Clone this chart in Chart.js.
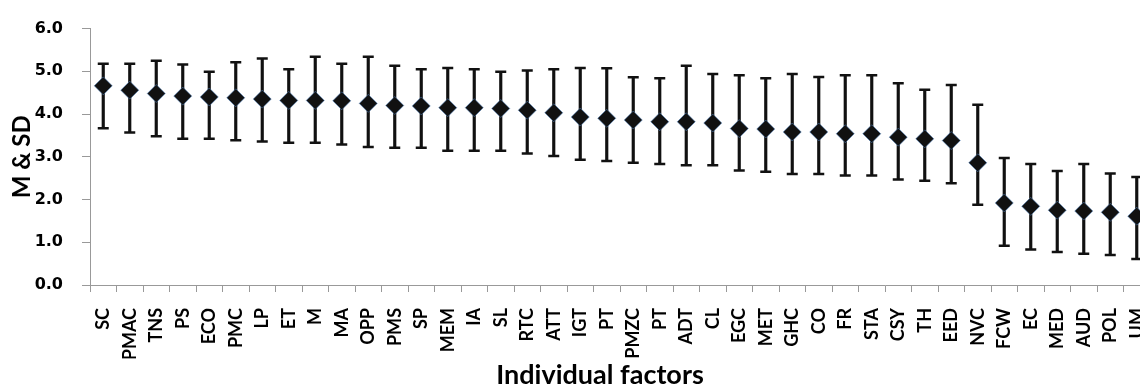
<!DOCTYPE html>
<html>
<head>
<meta charset="utf-8">
<script src="https://cdn.jsdelivr.net/npm/chart.js@4"></script>
<style>
  html, body { margin: 0; padding: 0; background: #fff; overflow: hidden; }
  #wrap { position: relative; width: 1200px; height: 400px; }
</style>
</head>
<body>
<div id="wrap"><canvas id="grafica"></canvas></div>
<script>
// factores (eje x)
const categorias = ['SC','PMAC','TNS','PS','ECO','PMC','LP','ET','M','MA','OPP','PMS','SP','MEM','IA','SL','RTC','ATT','IGT','PT',
  'PMZC','PT','ADT','CL','EGC','MET','GHC','CO','FR','STA','CSY','TH','EED','NVC','FCW','EC','MED','AUD','POL','UM'];

// media de cada factor
const medias = [4.66,4.56,4.48,4.42,4.40,4.38,4.35,4.32,4.32,4.31,4.25,4.20,4.19,4.15,4.15,4.13,4.09,4.03,3.93,3.90,
  3.86,3.82,3.82,3.79,3.66,3.65,3.58,3.58,3.54,3.54,3.46,3.42,3.38,2.86,1.92,1.84,1.75,1.73,1.70,1.61];

// extremo superior e inferior de la barra de error
const superior = [5.18,5.18,5.25,5.16,4.99,5.21,5.30,5.05,5.34,5.18,5.34,5.13,5.05,5.08,5.05,4.99,5.02,5.05,5.08,5.07,
  4.86,4.84,5.13,4.94,4.91,4.84,4.94,4.87,4.91,4.91,4.72,4.57,4.68,4.22,2.97,2.83,2.67,2.83,2.61,2.53];
const inferior = [3.67,3.57,3.48,3.42,3.42,3.39,3.36,3.33,3.33,3.29,3.23,3.21,3.21,3.14,3.14,3.14,3.08,3.02,2.93,2.90,
  2.86,2.83,2.80,2.80,2.68,2.65,2.60,2.60,2.56,2.56,2.47,2.44,2.38,1.88,0.92,0.83,0.77,0.73,0.70,0.61];

// etiquetas del eje y
const ticksY = [0, 1, 2, 3, 4, 5, 6];

const negro = '#111';
const gris = '#999';

const grafica = new Chart(document.getElementById('grafica'), {
  type: 'bar',
  data: {
    labels: categorias,
    datasets: [
      {
        // medias (rombos)
        type: 'line',
        data: medias,
        showLine: false,
        pointStyle: 'rectRot',
        pointRadius: 9,
        pointBackgroundColor: negro,
        pointBorderColor: 'rgba(79,129,189,0.55)',
        pointBorderWidth: 1,
        order: 0
      },
      {
        // linea vertical de la barra de error
        type: 'bar',
        data: inferior.map((v, i) => [v, superior[i]]),
        backgroundColor: negro,
        borderWidth: 0,
        barThickness: 2.5,
        order: 2
      },
      {
        type: 'line',
        data: superior,
        showLine: false,
        pointStyle: 'line',
        pointRadius: 5.5,
        pointBorderColor: negro,
        pointBorderWidth: 2.5,
        order: 1
      },
      {
        type: 'line',
        data: inferior,
        showLine: false,
        pointStyle: 'line',
        pointRadius: 5.5,
        pointBorderColor: negro,
        pointBorderWidth: 2.5,
        order: 1
      }
    ]
  },
  options: {
    responsive: true,
    maintainAspectRatio: false,
    animation: false,
    devicePixelRatio: 1,
    layout: { padding: { top: 25, left: 0, right: 0, bottom: 9 } },
    plugins: {
      legend: { display: false },
      tooltip: { enabled: false },
      title: {
        display: true,
        position: 'bottom',
        text: 'Individual factors',
        color: '#000',
        padding: 0,
        font: { family: 'Lato', weight: 'bold', size: 27 }
      }
    },
    scales: {
      x: {
        offset: true,
        grid: { offset: true, drawOnChartArea: false, tickLength: 7, color: gris },
        border: { color: gris },
        ticks: {
          autoSkip: false,
          minRotation: 90,
          maxRotation: 90,
          padding: 16,
          color: '#000',
          font: { family: 'Lato', weight: 'bold', size: 18 }
        },
        afterFit: s => { s.height = 73.6; }
      },
      y: {
        min: ticksY[0],
        max: ticksY[ticksY.length - 1],
        afterBuildTicks: s => { s.ticks = ticksY.map(v => ({ value: v })); },
        grid: { drawOnChartArea: false, tickLength: 8, color: gris },
        border: { color: gris },
        ticks: {
          padding: 19,
          color: '#000',
          font: { family: 'DejaVu Sans', weight: 'bold', size: 16 },
          callback: v => v.toFixed(1)
        },
        title: {
          display: true,
          text: 'M & SD',
          color: '#000',
          padding: { top: 8, bottom: 0 },
          font: { family: 'Lato', weight: 'bold', size: 24 }
        },
        afterFit: s => { s.width = 90; }
      },
      // eje vacio a la derecha: deja el area del grafico hasta 1150 px
      relleno: {
        type: 'linear',
        position: 'right',
        display: true,
        grid: { display: false },
        border: { display: false },
        ticks: { display: false },
        afterFit: s => { s.width = 50; }
      }
    }
  }
});
</script>
</body>
</html>
